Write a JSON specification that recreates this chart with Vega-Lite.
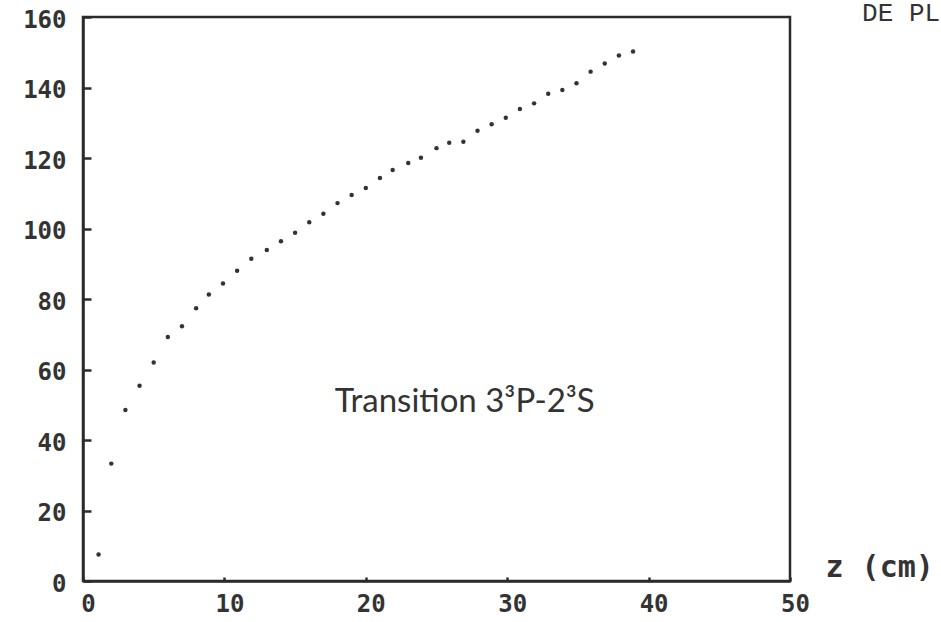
{
  "$schema": "https://vega.github.io/schema/vega-lite/v6.json",
  "width": 707,
  "height": 564,
  "autosize": {"type": "none"},
  "padding": {"left": 83, "top": 17, "right": 151, "bottom": 41},
  "background": "white",
  "config": {
    "view": {"stroke": "#2b2b2b", "strokeWidth": 2.5},
    "axis": {
      "grid": false,
      "domainColor": "#2b2b2b",
      "domainWidth": 2.5,
      "tickColor": "#2b2b2b",
      "tickWidth": 2.5,
      "labelFont": "DejaVu Sans Mono",
      "labelFontWeight": "bold",
      "labelFontSize": 24,
      "labelColor": "#333333",
      "labelFlush": false,
      "labelOverlap": false
    }
  },
  "layer": [
    {
      "data": {
        "values": [
          {"z": 1.1, "v": 7.5},
          {"z": 2.0, "v": 33.3},
          {"z": 3.0, "v": 48.5},
          {"z": 4.0, "v": 55.4},
          {"z": 5.0, "v": 62.0},
          {"z": 6.0, "v": 69.2},
          {"z": 7.0, "v": 72.3},
          {"z": 8.0, "v": 77.4},
          {"z": 8.9, "v": 81.3},
          {"z": 9.9, "v": 84.4},
          {"z": 10.9, "v": 88.0},
          {"z": 11.9, "v": 91.4},
          {"z": 13.0, "v": 93.9},
          {"z": 14.0, "v": 96.4},
          {"z": 15.0, "v": 98.8},
          {"z": 16.0, "v": 101.8},
          {"z": 17.0, "v": 104.2},
          {"z": 18.0, "v": 107.2},
          {"z": 19.0, "v": 109.5},
          {"z": 20.0, "v": 111.5},
          {"z": 21.0, "v": 114.3},
          {"z": 21.9, "v": 116.6},
          {"z": 23.0, "v": 118.6},
          {"z": 23.9, "v": 120.1},
          {"z": 25.0, "v": 122.8},
          {"z": 25.9, "v": 124.3},
          {"z": 26.9, "v": 124.6},
          {"z": 27.9, "v": 127.7},
          {"z": 28.9, "v": 129.6},
          {"z": 29.9, "v": 131.4},
          {"z": 30.9, "v": 133.9},
          {"z": 31.9, "v": 135.5},
          {"z": 32.9, "v": 138.2},
          {"z": 33.9, "v": 139.3},
          {"z": 34.9, "v": 141.2},
          {"z": 35.9, "v": 144.5},
          {"z": 36.9, "v": 146.8},
          {"z": 37.9, "v": 149.1},
          {"z": 38.9, "v": 150.2}
        ]
      },
      "mark": {"type": "point", "filled": true, "size": 20, "color": "#333333", "opacity": 1},
      "encoding": {
        "x": {
          "field": "z",
          "type": "quantitative",
          "scale": {"domain": [0, 50], "nice": false, "zero": false},
          "axis": {
            "values": [0, 10, 20, 30, 40, 50],
            "tickSize": -4,
            "labelPadding": 15,
            "labelOffset": 5,
            "title": "z (cm)",
            "titleFont": "DejaVu Sans Mono",
            "titleFontWeight": "bold",
            "titleFontSize": 30,
            "titleColor": "#333333",
            "titleAlign": "left",
            "titleBaseline": "middle",
            "titleAngle": 0,
            "titleX": 742,
            "titleY": -14
          }
        },
        "y": {
          "field": "v",
          "type": "quantitative",
          "scale": {"domain": [0, 160], "nice": false, "zero": true},
          "axis": {
            "values": [0, 20, 40, 60, 80, 100, 120, 140, 160],
            "tickSize": -8,
            "labelPadding": 25,
            "labelOffset": 3,
            "title": null
          }
        }
      }
    },
    {
      "data": {"values": [{"label": "Transition 3³P-2³S"}]},
      "mark": {
        "type": "text",
        "align": "left",
        "baseline": "alphabetic",
        "font": "Lato",
        "fontSize": 33,
        "color": "#333333"
      },
      "encoding": {
        "x": {"datum": 17.8, "type": "quantitative"},
        "y": {"datum": 48, "type": "quantitative"},
        "text": {"field": "label", "type": "nominal"}
      }
    },
    {
      "data": {"values": [{"label": "DE PL"}]},
      "mark": {
        "type": "text",
        "align": "left",
        "baseline": "middle",
        "font": "Liberation Mono",
        "fontSize": 26,
        "color": "#333333"
      },
      "encoding": {
        "x": {"datum": 55.1, "type": "quantitative"},
        "y": {"datum": 161, "type": "quantitative"},
        "text": {"field": "label", "type": "nominal"}
      }
    }
  ]
}
